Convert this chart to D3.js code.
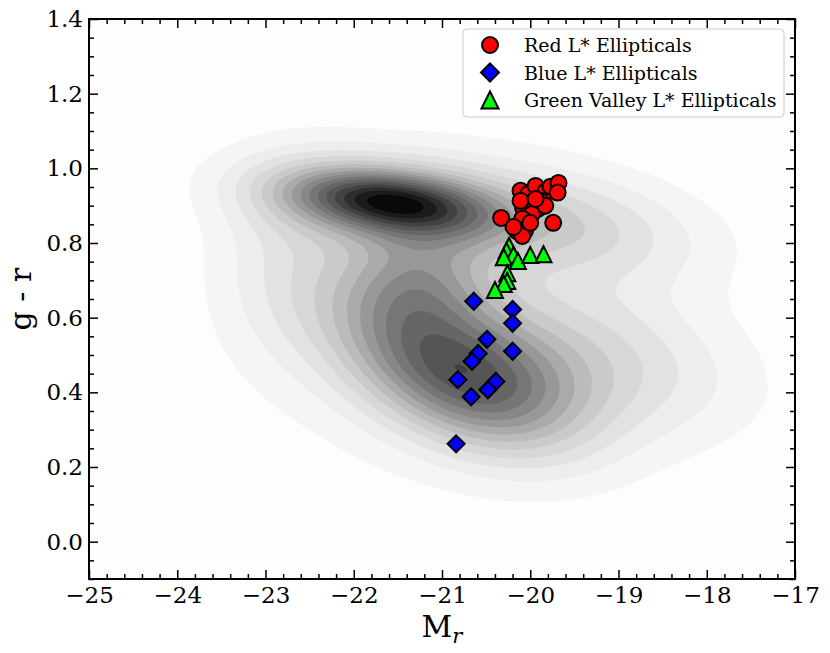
<!DOCTYPE html>
<html>
<head>
<meta charset="utf-8">
<script src="https://cdn.jsdelivr.net/npm/d3@7"></script>
<style>
  body { margin: 0; background: #fff; }
  text { font-family: "DejaVu Serif", serif; fill: #000; }
</style>
</head>
<body>
<svg id="chart" width="830" height="653"></svg>
<script>
// --- data ---
const redMr = [-20.33, -20.11, -20.02, -19.94, -19.83, -19.77, -19.68, -19.69, -20.08, -19.91, -19.98,
               -20.09, -19.74, -20.15, -20.06, -20.09, -19.89, -20.11, -20.00, -20.19, -19.83, -19.94];
const redGr = [0.867, 0.940, 0.932, 0.953, 0.937, 0.951, 0.961, 0.935, 0.894, 0.892, 0.878,
               0.865, 0.854, 0.832, 0.832, 0.819, 0.913, 0.913, 0.854, 0.843, 0.900, 0.918];

const blueMr = [-20.64, -20.20, -20.20, -20.49, -20.59, -20.66, -20.20, -20.82, -20.39, -20.48, -20.67, -20.84];
const blueGr = [0.644, 0.622, 0.585, 0.542, 0.504, 0.483, 0.510, 0.434, 0.429, 0.407, 0.388, 0.262];

const greenMr = [-20.24, -20.27, -20.19, -20.30, -20.14, -20.00, -19.85, -20.26, -20.26, -20.30, -20.40];
const greenGr = [0.792, 0.779, 0.768, 0.762, 0.752, 0.768, 0.770, 0.719, 0.698, 0.690, 0.674];

// background galaxy density, as blobs (centre, spread, tilt, height)
const kdeMx  = [-21.62, -21.45, -19.50, -21.80, -20.78, -19.30, -21.30, -21.20, -22.70];
const kdeMy  = [ 0.912,  0.900,  0.850,  0.955,  0.440,  0.490,  0.700,  0.580,  0.760];
const kdeSx  = [ 0.70,   1.05,   1.10,   1.00,   0.90,   1.20,   0.60,   1.60,   0.60];
const kdeSy  = [ 0.055,  0.080,  0.110,  0.085,  0.140,  0.150,  0.110,  0.320,  0.180];
const kdeRho = [-0.30,  -0.35,  -0.30,   0.00,  -0.45,  -0.30,   0.00,   0.00,   0.00];
const kdeW   = [ 0.45,   0.35,   0.20,   0.08,   0.60,   0.22,   0.32,   0.09,   0.13];
const nLevels = 17;

const xTicks = [-25, -24, -23, -22, -21, -20, -19, -18, -17];
const yTicks = [0.0, 0.2, 0.4, 0.6, 0.8, 1.0, 1.2, 1.4];
const legendLabels = ["Red L* Ellipticals", "Blue L* Ellipticals", "Green Valley L* Ellipticals"];
const legendColors = ["#ff0000", "#0000ff", "#00ff00"];

// --- layout ---
const mLeft = 89, mRight = 795, mTop = 19, mBottom = 579;
const svg = d3.select("#chart");
svg.append("rect").attr("width", 830).attr("height", 653).attr("fill", "#fff");

const x = d3.scaleLinear().domain([-25, -17]).range([mLeft, mRight]);
const y = d3.scaleLinear().domain([-0.1, 1.4]).range([mBottom, mTop]);

// --- density contours ---
const nx = 240, ny = 180;
const [x0, x1] = x.domain(), [y0, y1] = y.domain();
const values = new Float64Array(nx * ny);
for (let j = 0; j < ny; j++) {
  const gy = y1 - (j + 0.5) * (y1 - y0) / ny;
  for (let i = 0; i < nx; i++) {
    const gx = x0 + (i + 0.5) * (x1 - x0) / nx;
    let s = 0;
    for (let k = 0; k < kdeW.length; k++) {
      const dx = (gx - kdeMx[k]) / kdeSx[k], dy = (gy - kdeMy[k]) / kdeSy[k], r = kdeRho[k];
      const q = (dx * dx + dy * dy - 2 * r * dx * dy) / (1 - r * r);
      s += kdeW[k] * Math.exp(-q / 2);
    }
    values[j * nx + i] = s;
  }
}
const vmax = d3.max(values);
const thresholds = d3.range(1, nLevels).map(k => k * vmax / nLevels);
const grey = k => d3.interpolateGreys(0.02 + k * 0.95 / (nLevels - 1));

const plot = svg.append("g");
plot.append("rect").attr("x", mLeft).attr("y", mTop)
  .attr("width", mRight - mLeft).attr("height", mBottom - mTop).attr("fill", grey(0));

const gridPath = d3.geoPath(d3.geoTransform({
  point(gx, gy) {
    this.stream.point(x(x0 + gx * (x1 - x0) / nx), y(y1 - gy * (y1 - y0) / ny));
  }
}));
plot.selectAll(".level")
  .data(d3.contours().size([nx, ny]).thresholds(thresholds)(values))
  .enter().append("path")
  .attr("class", "level")
  .attr("d", gridPath)
  .attr("fill", (d, i) => grey(i + 1));

// --- markers ---
const triangleMark = {
  draw(ctx, size) {
    const h = Math.sqrt(size) / 2;
    ctx.moveTo(0, -h); ctx.lineTo(h, h); ctx.lineTo(-h, h); ctx.closePath();
  }
};
const diamondMark = {
  draw(ctx, size) {
    const h = Math.sqrt(size) / 2;
    ctx.moveTo(0, -h); ctx.lineTo(h, 0); ctx.lineTo(0, h); ctx.lineTo(-h, 0); ctx.closePath();
  }
};
const circleSym = d3.symbol().type(d3.symbolCircle).size(Math.PI * 64);
const diamondSym = d3.symbol().type(diamondMark).size(17 * 17);
const triangleSym = d3.symbol().type(triangleMark).size(16 * 16);

function drawSet(mr, gr, sym, color) {
  plot.append("g").selectAll("path")
    .data(d3.zip(mr, gr))
    .enter().append("path")
    .attr("transform", d => `translate(${x(d[0])},${y(d[1])})`)
    .attr("d", sym)
    .attr("fill", color)
    .attr("stroke", "#000")
    .attr("stroke-width", 2);
}
drawSet(redMr, redGr, circleSym, legendColors[0]);
drawSet(blueMr, blueGr, diamondSym, legendColors[1]);
drawSet(greenMr, greenGr, triangleSym, legendColors[2]);

// --- axes: inward ticks on all four sides ---
const xMinor = d3.range(-25, -16.99, 0.2).filter(v => Math.abs(v - Math.round(v)) > 1e-6);
const yMinor = d3.range(-0.1, 1.401, 0.05).filter(v => Math.abs(v * 5 - Math.round(v * 5)) > 1e-6);

function styleAxis(g) {
  g.attr("font-size", 23).attr("font-family", "DejaVu Serif");
  g.select(".domain").remove();
  g.selectAll("line").attr("stroke", "#000").attr("stroke-width", 1.5);
}

svg.append("g").attr("transform", `translate(0,${mBottom})`)
  .call(d3.axisBottom(x).tickValues(xTicks).tickSize(-9).tickPadding(8).tickFormat(d3.format("d")))
  .call(styleAxis);
svg.append("g").attr("transform", `translate(0,${mBottom})`)
  .call(d3.axisBottom(x).tickValues(xMinor).tickSize(-5).tickFormat(""))
  .call(styleAxis);
svg.append("g").attr("transform", `translate(0,${mTop})`)
  .call(d3.axisTop(x).tickValues(xTicks).tickSize(-9).tickFormat(""))
  .call(styleAxis);
svg.append("g").attr("transform", `translate(0,${mTop})`)
  .call(d3.axisTop(x).tickValues(xMinor).tickSize(-5).tickFormat(""))
  .call(styleAxis);

svg.append("g").attr("transform", `translate(${mLeft},0)`)
  .call(d3.axisLeft(y).tickValues(yTicks).tickSize(-9).tickPadding(6).tickFormat(d3.format(".1f")))
  .call(styleAxis);
svg.append("g").attr("transform", `translate(${mLeft},0)`)
  .call(d3.axisLeft(y).tickValues(yMinor).tickSize(-5).tickFormat(""))
  .call(styleAxis);
svg.append("g").attr("transform", `translate(${mRight},0)`)
  .call(d3.axisRight(y).tickValues(yTicks).tickSize(-9).tickFormat(""))
  .call(styleAxis);
svg.append("g").attr("transform", `translate(${mRight},0)`)
  .call(d3.axisRight(y).tickValues(yMinor).tickSize(-5).tickFormat(""))
  .call(styleAxis);

svg.append("rect").attr("x", mLeft).attr("y", mTop)
  .attr("width", mRight - mLeft).attr("height", mBottom - mTop)
  .attr("fill", "none").attr("stroke", "#000").attr("stroke-width", 2);

// --- axis labels ---
const xl = svg.append("text").attr("x", (mLeft + mRight) / 2).attr("y", 637)
  .attr("text-anchor", "middle").attr("font-size", 30);
xl.append("tspan").text("M");
xl.append("tspan").attr("font-style", "italic").attr("font-size", 21).attr("dy", 6).text("r");

svg.append("text").attr("transform", `translate(31,${(mTop + mBottom) / 2}) rotate(-90)`)
  .attr("text-anchor", "middle").attr("font-size", 30).text("g - r");

// --- legend ---
const leg = svg.append("g");
leg.append("rect").attr("x", 463).attr("y", 29).attr("width", 321).attr("height", 88)
  .attr("rx", 4).attr("fill", "#fff").attr("fill-opacity", 0.8)
  .attr("stroke", "#cccccc").attr("stroke-width", 1);
const legSyms = [circleSym, d3.symbol().type(diamondMark).size(18 * 18), d3.symbol().type(triangleMark).size(17 * 17)];
legendLabels.forEach((lab, i) => {
  const cy = 45 + i * 27.5;
  leg.append("path").attr("transform", `translate(490,${cy})`)
    .attr("d", legSyms[i]).attr("fill", legendColors[i])
    .attr("stroke", "#000").attr("stroke-width", 2);
  leg.append("text").attr("x", 524).attr("y", cy + 7).attr("font-size", 19).text(lab);
});
</script>
</body>
</html>
